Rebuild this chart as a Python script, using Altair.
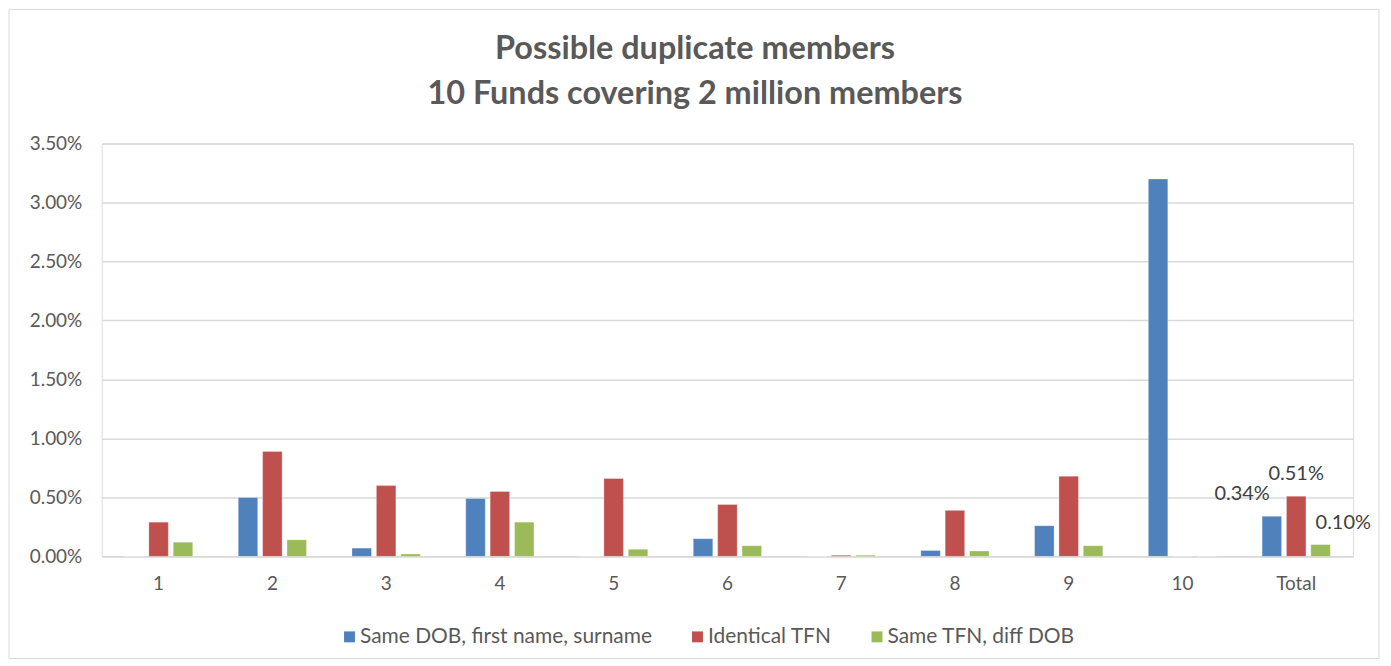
import altair as alt
import pandas as pd

categories = ["1", "2", "3", "4", "5", "6", "7", "8", "9", "10", "Total"]
series_names = ["Same DOB, first name, surname", "Identical TFN", "Same TFN, diff DOB"]
same_dob = [0.0, 0.50, 0.07, 0.49, 0.0, 0.15, 0.0, 0.05, 0.26, 3.20, 0.34]
identical_tfn = [0.29, 0.89, 0.60, 0.55, 0.66, 0.44, 0.01, 0.39, 0.68, 0.0, 0.51]
same_tfn_diff_dob = [0.12, 0.14, 0.02, 0.29, 0.06, 0.09, 0.01, 0.045, 0.09, 0.0, 0.10]
colors = ["#4F81BD", "#C0504D", "#9BBB59"]
y_ticks = [0, 0.005, 0.01, 0.015, 0.02, 0.025, 0.03, 0.035]
title_lines = ["Possible duplicate members", "10 Funds covering 2 million members"]

rows = []
for name, vals in zip(series_names, [same_dob, identical_tfn, same_tfn_diff_dob]):
    for c, v in zip(categories, vals):
        rows.append({"Fund": c, "Series": name, "Value": v / 100.0})
df = pd.DataFrame(rows)

FONT = "Lato"
W, H = 1255, 414

x_enc = alt.X("Fund:N", sort=categories, title=None,
              scale=alt.Scale(paddingInner=0.4, paddingOuter=0.2),
              axis=alt.Axis(labelAngle=0, labelFontSize=19, labelColor="#595959",
                            labelPadding=18, ticks=False, domainColor="#D9D9D9",
                            domainWidth=1.5, labelFont=FONT))
y_enc = alt.Y("Value:Q", title=None,
              scale=alt.Scale(domain=[0, 0.035], nice=False),
              axis=alt.Axis(format=".2%", values=y_ticks, labelFontSize=19,
                            labelColor="#595959", labelPadding=20, ticks=False,
                            domain=False, gridColor="#D9D9D9", gridWidth=1.5,
                            labelFont=FONT))
xoff = alt.XOffset("Series:N", sort=series_names,
                   scale=alt.Scale(paddingInner=0.2, paddingOuter=0.0))

base = alt.Chart(df)

bars = base.mark_bar(stroke="white", strokeWidth=0.6, strokeOpacity=0.5).encode(
    x=x_enc, y=y_enc, xOffset=xoff,
    color=alt.Color("Series:N", sort=series_names,
                    scale=alt.Scale(domain=series_names, range=colors),
                    legend=alt.Legend(title=None, orient="none", direction="horizontal",
                                      legendX=238, legendY=484, symbolType="square",
                                      symbolSize=120, symbolStrokeWidth=0,
                                      labelFontSize=21, labelColor="#595959",
                                      labelFont=FONT, columnPadding=34, labelOffset=0,
                                      labelLimit=0)),
)

label_specs = [
    (series_names[0], "right", -2, -22),
    (series_names[1], "center", 0, -22),
    (series_names[2], "left", -5, -22),
]
labels = []
for name, align, dx, dy in label_specs:
    labels.append(
        base.transform_filter(
            (alt.datum.Fund == "Total") & (alt.datum.Series == name)
        ).mark_text(align=align, baseline="middle", dx=dx, dy=dy, fontSize=20,
                    color="#404040", font=FONT).encode(
            x=alt.X("Fund:N", sort=categories), y="Value:Q",
            xOffset=alt.XOffset("Series:N", sort=series_names),
            text=alt.Text("Value:Q", format=".2%"),
        )
    )

title_df = pd.DataFrame({"line": title_lines, "idx": [0, 1]})
title_marks = []
for i, ypos in enumerate([-95, -50]):
    title_marks.append(
        alt.Chart(title_df).transform_filter(alt.datum.idx == i).mark_text(
            fontSize=32.5, fontWeight="bold", color="#595959", font=FONT,
            align="center", baseline="middle"
        ).encode(text="line:N", x=alt.value(595), y=alt.value(ypos))
    )

border = alt.Chart(pd.DataFrame({"a": [0]})).mark_rect(
    fill=None, stroke="#D9D9D9", strokeWidth=1
).encode(x=alt.value(-93), x2=alt.value(1281), y=alt.value(-134.5), y2=alt.value(516.5))

chart = alt.layer(border, bars, *labels, *title_marks).properties(
    width=W, height=H,
    padding={"left": 94, "top": 135, "right": 30, "bottom": 103},
    autosize=alt.AutoSizeParams(type="none"),
).configure_view(stroke=None).configure(background="white")

chart.save("out.html", embed_options={"renderer": "svg", "actions": False})
